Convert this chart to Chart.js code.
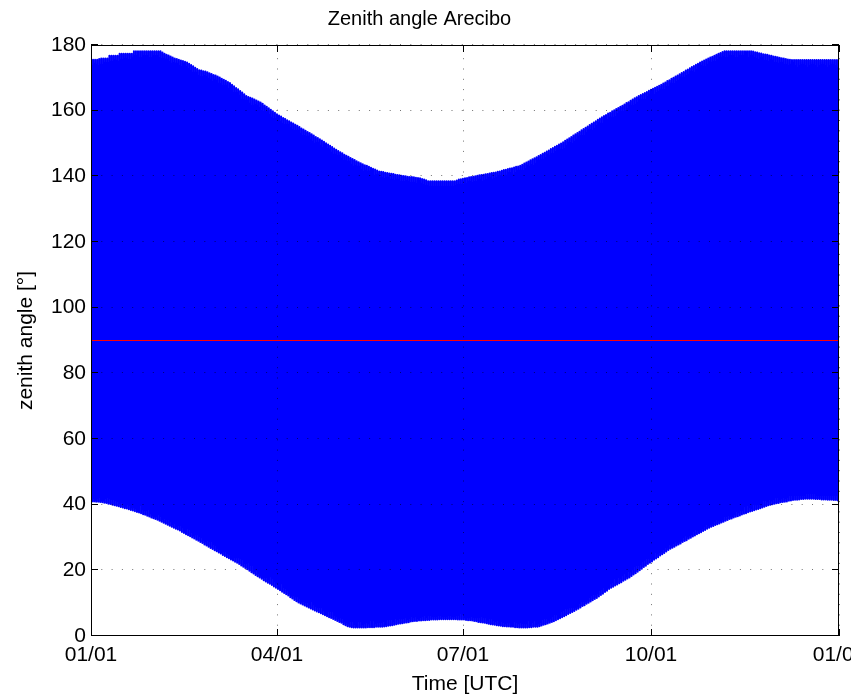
<!DOCTYPE html>
<html>
<head>
<meta charset="utf-8">
<title>Zenith angle Arecibo</title>
<script src="https://cdn.jsdelivr.net/npm/chart.js@4.4.0/dist/chart.umd.min.js"></script>
<style>
    html, body { margin: 0; padding: 0; background: #fff; overflow: hidden; }
    #wrap { width: 851px; height: 695px; }
</style>
</head>
<body>
<div id="wrap"><canvas id="zenithChart" width="851" height="695"></canvas></div>
<script>
// daily upper turning point (night side) of the sun's zenith angle, day 0 = 01/01 (leap year)
const dayMax = [
    175.5,175.5,175.5,175.5,175.7,175.9,175.9,175.9,175.9,176.7,
    176.7,176.7,176.7,176.7,177.3,177.3,177.3,177.3,177.3,177.3,
    177.3,178.1,178.1,178.1,178.1,178.1,178.1,178.1,178.1,178.1,
    178.1,178.1,178.1,178.1,178.1,177.7,177.3,177.0,176.8,176.5,
    176.2,175.9,175.7,175.5,175.3,175.1,174.9,174.7,174.3,173.9,
    173.5,173.1,172.7,172.3,172.2,172.0,171.9,171.7,171.4,171.2,
    170.9,170.7,170.4,170.1,169.7,169.4,169.1,168.7,168.4,167.9,
    167.4,166.9,166.5,166.0,165.5,165.0,164.5,164.2,163.9,163.7,
    163.4,163.1,162.8,162.5,162.1,161.6,161.2,160.7,160.3,159.8,
    159.4,158.9,158.5,158.2,157.8,157.5,157.1,156.8,156.4,156.1,
    155.7,155.4,155.0,154.6,154.3,153.9,153.5,153.2,152.8,152.4,
    152.0,151.7,151.3,150.9,150.5,150.1,149.7,149.3,148.9,148.5,
    148.1,147.7,147.3,147.0,146.6,146.3,146.0,145.6,145.3,145.0,
    144.6,144.3,144.0,143.7,143.4,143.2,142.9,142.6,142.3,142.1,
    141.8,141.5,141.4,141.3,141.1,141.0,140.9,140.8,140.7,140.5,
    140.4,140.3,140.2,140.1,140.0,139.9,139.8,139.8,139.7,139.6,
    139.5,139.4,139.2,139.0,138.8,138.5,138.5,138.5,138.5,138.5,
    138.5,138.5,138.5,138.5,138.5,138.5,138.5,138.5,138.5,138.7,
    139.0,139.1,139.3,139.4,139.5,139.7,139.8,139.9,140.0,140.2,
    140.3,140.4,140.5,140.6,140.7,140.9,141.0,141.1,141.2,141.4,
    141.5,141.7,141.9,142.0,142.2,142.4,142.5,142.7,142.9,143.0,
    143.2,143.5,143.9,144.2,144.5,144.9,145.2,145.5,145.8,146.2,
    146.5,146.9,147.2,147.6,147.9,148.3,148.6,149.0,149.3,149.7,
    150.0,150.4,150.8,151.2,151.6,152.0,152.4,152.8,153.2,153.6,
    154.0,154.4,154.8,155.2,155.6,156.0,156.4,156.8,157.2,157.6,
    158.0,158.4,158.7,159.1,159.4,159.8,160.1,160.5,160.8,161.2,
    161.5,161.9,162.3,162.6,163.0,163.4,163.8,164.1,164.5,164.8,
    165.1,165.4,165.7,166.1,166.4,166.7,167.0,167.3,167.6,167.9,
    168.3,168.6,169.0,169.3,169.7,170.0,170.4,170.7,171.1,171.5,
    171.8,172.2,172.5,172.9,173.3,173.6,174.0,174.3,174.7,175.0,
    175.3,175.6,175.9,176.2,176.4,176.7,177.0,177.3,177.6,177.9,
    178.1,178.1,178.1,178.1,178.1,178.1,178.1,178.1,178.1,178.1,
    178.1,178.1,178.1,178.1,178.0,177.8,177.7,177.5,177.4,177.2,
    177.1,177.0,176.8,176.7,176.5,176.4,176.3,176.1,176.0,175.9,
    175.7,175.6,175.5,175.4,175.4,175.4,175.4,175.4,175.4,175.4,
    175.4,175.4,175.4,175.4,175.4,175.4,175.4,175.4,175.4,175.4,
    175.4,175.4,175.4,175.4,175.4,175.4,175.4
];

// daily lower turning point (noon side)
const dayMin = [
    41.0,41.0,40.9,40.9,40.8,40.7,40.6,40.5,40.3,40.2,
    40.0,39.8,39.7,39.5,39.3,39.1,38.9,38.8,38.6,38.4,
    38.2,38.0,37.8,37.6,37.4,37.1,36.9,36.6,36.4,36.1,
    35.9,35.6,35.4,35.1,34.8,34.5,34.2,33.9,33.6,33.3,
    33.0,32.7,32.4,32.1,31.7,31.4,31.0,30.7,30.4,30.0,
    29.7,29.3,29.0,28.6,28.3,27.9,27.6,27.2,26.8,26.5,
    26.1,25.8,25.4,25.1,24.7,24.4,24.0,23.7,23.3,23.0,
    22.6,22.3,21.9,21.5,21.1,20.7,20.3,19.9,19.4,19.0,
    18.6,18.2,17.8,17.4,17.0,16.6,16.2,15.9,15.5,15.1,
    14.7,14.3,13.9,13.5,13.1,12.7,12.3,11.8,11.4,11.0,
    10.6,10.2,9.9,9.6,9.3,9.0,8.7,8.4,8.1,7.8,
    7.5,7.2,6.9,6.6,6.3,6.0,5.7,5.5,5.2,4.9,
    4.6,4.3,4.0,3.6,3.3,3.0,2.8,2.7,2.6,2.6,
    2.6,2.6,2.6,2.6,2.6,2.7,2.7,2.7,2.7,2.8,
    2.8,2.8,2.8,2.9,3.0,3.1,3.2,3.3,3.4,3.6,
    3.7,3.8,3.9,4.0,4.1,4.2,4.4,4.5,4.6,4.6,
    4.7,4.7,4.8,4.8,4.9,4.9,5.0,5.0,5.0,5.0,
    5.1,5.1,5.1,5.1,5.1,5.1,5.1,5.1,5.1,5.0,
    5.0,5.0,5.0,4.9,4.8,4.8,4.7,4.6,4.5,4.3,
    4.2,4.1,4.0,3.9,3.7,3.6,3.5,3.4,3.3,3.2,
    3.1,3.0,3.0,2.9,2.9,2.8,2.8,2.7,2.7,2.6,
    2.6,2.6,2.6,2.6,2.7,2.7,2.8,2.8,2.8,3.0,
    3.2,3.4,3.6,3.8,4.0,4.3,4.5,4.8,5.1,5.4,
    5.7,6.0,6.3,6.7,7.0,7.3,7.6,8.0,8.3,8.7,
    9.1,9.4,9.8,10.1,10.5,10.9,11.3,11.6,12.0,12.5,
    12.9,13.4,13.8,14.3,14.7,15.0,15.4,15.7,16.1,16.4,
    16.8,17.1,17.5,17.8,18.3,18.7,19.1,19.6,20.0,20.5,
    21.0,21.4,21.9,22.3,22.7,23.2,23.6,24.0,24.5,24.9,
    25.3,25.7,26.2,26.6,26.9,27.2,27.6,27.9,28.2,28.6,
    28.9,29.2,29.6,29.9,30.3,30.6,31.0,31.3,31.6,32.0,
    32.3,32.7,33.0,33.3,33.5,33.8,34.0,34.3,34.6,34.8,
    35.1,35.3,35.6,35.8,36.1,36.3,36.5,36.7,37.0,37.2,
    37.4,37.7,37.9,38.1,38.3,38.5,38.7,38.9,39.1,39.4,
    39.6,39.8,40.0,40.1,40.3,40.4,40.5,40.7,40.8,40.9,
    41.0,41.2,41.3,41.4,41.5,41.5,41.6,41.7,41.7,41.8,
    41.8,41.8,41.8,41.8,41.7,41.7,41.7,41.6,41.6,41.6,
    41.5,41.5,41.5,41.4,41.4,41.3,41.3
];

// horizon reference line
const horizonDays = [0, 366];
const horizonValues = [90, 90];

const tickDays = [0, 91, 182, 274, 366];
const tickLabels = ['01/01', '04/01', '07/01', '10/01', '01/01'];
const yTickValues = [0, 20, 40, 60, 80, 100, 120, 140, 160, 180];

// max around local midnight, min half a day later
const zenithPoints = [];
dayMax.forEach((v, d) => {
    zenithPoints.push({ x: d, y: v });
    if (d + 0.5 <= 366) zenithPoints.push({ x: d + 0.5, y: dayMin[d] });
});

const horizonPoints = horizonDays.map((d, i) => ({ x: d, y: horizonValues[i] }));

Chart.defaults.font.family = '"Liberation Sans", Arial, Helvetica, sans-serif';
Chart.defaults.color = '#000';

// matlab style: dotted grid on top, box, ticks pointing inward
const matlabAxes = {
    id: 'matlabAxes',
    afterDatasetsDraw(chart) {
        const { ctx, chartArea: a, scales: { x, y } } = chart;
        ctx.save();
        ctx.lineWidth = 1;

        ctx.strokeStyle = 'rgba(0,0,0,0.55)';
        ctx.setLineDash([1, 9.3]);
        x.ticks.forEach(t => {
            const px = Math.round(x.getPixelForValue(t.value)) + 0.5;
            ctx.beginPath();
            ctx.moveTo(px, a.bottom);
            ctx.lineTo(px, a.top);
            ctx.stroke();
        });
        y.ticks.forEach(t => {
            const py = Math.round(y.getPixelForValue(t.value)) - 0.5;
            ctx.beginPath();
            ctx.moveTo(a.left, py);
            ctx.lineTo(a.right, py);
            ctx.stroke();
        });
        ctx.setLineDash([]);

        ctx.strokeStyle = '#000';
        ctx.strokeRect(a.left + 0.5, a.top + 0.5, a.width - 1, a.height - 1);

        const tl = 7;
        ctx.beginPath();
        x.ticks.forEach(t => {
            const px = Math.round(x.getPixelForValue(t.value)) + 0.5;
            ctx.moveTo(px, a.bottom);
            ctx.lineTo(px, a.bottom - tl);
            ctx.moveTo(px, a.top);
            ctx.lineTo(px, a.top + tl);
        });
        y.ticks.forEach(t => {
            const py = Math.round(y.getPixelForValue(t.value)) - 0.5;
            ctx.moveTo(a.left, py);
            ctx.lineTo(a.left + tl, py);
            ctx.moveTo(a.right, py);
            ctx.lineTo(a.right - tl, py);
        });
        ctx.stroke();
        ctx.restore();
    }
};

new Chart(document.getElementById('zenithChart'), {
    type: 'line',
    data: {
        datasets: [
            {
                label: 'horizon',
                data: horizonPoints,
                borderColor: '#ff0000',
                borderWidth: 1,
                pointRadius: 0
            },
            {
                label: 'zenith angle',
                data: zenithPoints,
                borderColor: '#0000ff',
                borderWidth: 2,
                borderJoinStyle: 'round',
                pointRadius: 0,
                tension: 0
            }
        ]
    },
    options: {
        responsive: false,
        devicePixelRatio: 1,
        animation: false,
        events: [],
        layout: { padding: { left: 0, right: 12, top: 0, bottom: 0 } },
        plugins: {
            legend: { display: false },
            tooltip: { enabled: false },
            title: {
                display: true,
                text: 'Zenith angle Arecibo',
                font: { size: 20, weight: 'normal' },
                color: '#000',
                padding: { top: 7.5, bottom: 13.5 }
            }
        },
        scales: {
            x: {
                type: 'linear',
                min: 0,
                max: 366,
                grid: { display: false, drawTicks: false },
                border: { display: false },
                afterBuildTicks: (scale) => {
                    scale.ticks = tickDays.map(v => ({ value: v }));
                },
                afterFit: (scale) => {
                    scale.height = 59;
                    scale.paddingLeft = 0;
                    scale.paddingRight = 0;
                },
                ticks: {
                    autoSkip: false,
                    maxRotation: 0,
                    padding: 6.5,
                    font: { size: 21 },
                    callback: (value, index) => tickLabels[index]
                },
                title: {
                    display: true,
                    text: 'Time [UTC]',
                    font: { size: 21 },
                    padding: { top: 0, bottom: -1.5 }
                }
            },
            y: {
                min: 0,
                max: 180,
                grid: { display: false, drawTicks: false },
                border: { display: false },
                afterBuildTicks: (scale) => {
                    scale.ticks = yTickValues.map(v => ({ value: v }));
                },
                afterFit: (scale) => {
                    scale.width = 91;
                },
                ticks: {
                    padding: 5,
                    font: { size: 21 }
                },
                title: {
                    display: true,
                    text: 'zenith angle [°]',
                    font: { size: 21 },
                    padding: { top: 13.4, bottom: 4 }
                }
            }
        }
    },
    plugins: [matlabAxes]
});
</script>
</body>
</html>
